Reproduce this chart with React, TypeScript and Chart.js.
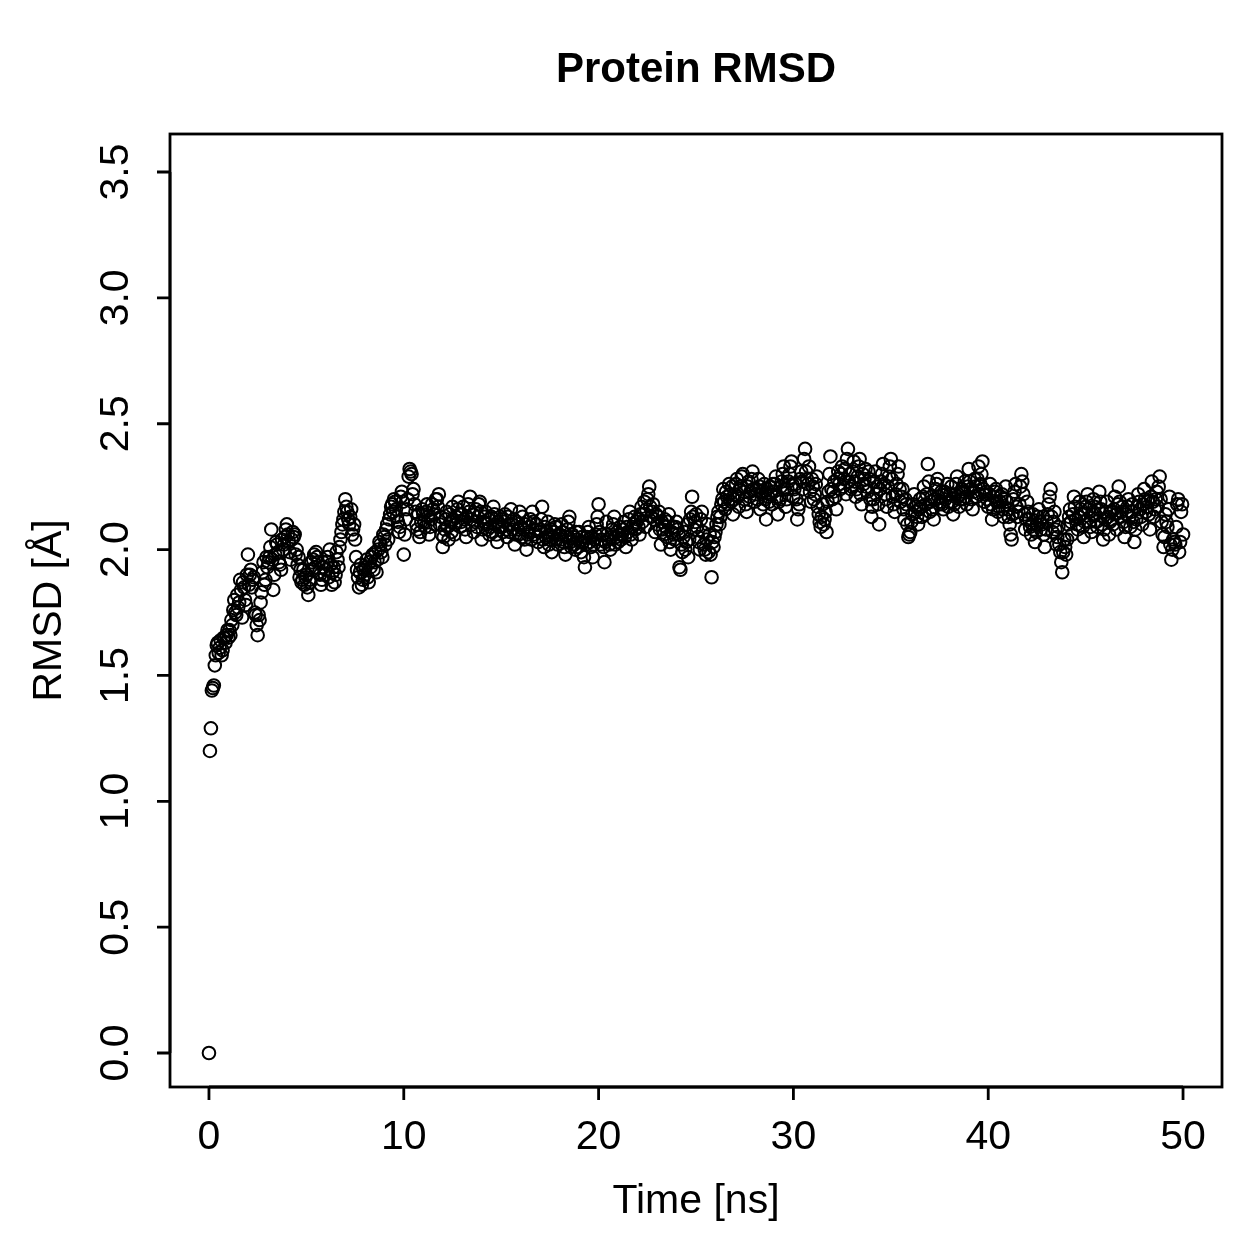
import { useEffect, useRef } from "react";
import { Chart, registerables } from "chart.js";

Chart.register(...registerables);

// Frame spacing of the trajectory (ns); frames alternate between the two lists below
const TIME_STEP_NS = 0.05;

// RMSD values (Å) of frames at t = 0.0, 0.1, 0.2, ... ns
const RMSD_EVEN_00_10 = [
  0.0, 1.29, 1.45, 1.54, 1.62, 1.59, 1.64, 1.6, 1.65, 1.66,
  1.65, 1.66, 1.7, 1.8, 1.74, 1.77, 1.88, 1.73, 1.85, 1.78,
  1.98, 1.9, 1.85, 1.89, 1.74, 1.66, 1.72, 1.83, 1.95, 1.88,
  1.93, 1.97, 2.08, 1.84, 1.98, 2.02, 1.95, 1.92, 2.0, 2.05,
  2.1, 2.03, 1.96, 2.07, 2.06, 2.0, 1.97, 1.92, 1.88, 1.86,
  1.9, 1.82, 1.87, 1.92, 1.98, 1.99, 1.95, 1.9, 1.88, 1.93,
  1.92, 1.97, 2.0, 1.86, 1.93, 1.9, 1.96, 2.01, 2.07, 2.12,
  2.2, 2.15, 2.1, 2.16, 2.08, 2.04, 1.92, 1.85, 1.94, 1.88,
  1.9, 1.96, 1.87, 1.93, 1.98, 1.95, 1.91, 2.0, 2.02, 1.97,
  2.05, 2.08, 2.04, 2.14, 2.18, 2.2, 2.16, 2.11, 2.09, 2.23,
];
const RMSD_EVEN_10_20 = [
  1.98, 2.12, 2.2, 2.32, 2.3, 2.24, 2.15, 2.08, 2.05, 2.11,
  2.14, 2.09, 2.18, 2.06, 2.12, 2.16, 2.1, 2.2, 2.22, 2.13,
  2.01, 2.08, 2.15, 2.04, 2.11, 2.17, 2.06, 2.13, 2.19, 2.09,
  2.14, 2.12, 2.05, 2.18, 2.21, 2.1, 2.07, 2.16, 2.13, 2.19,
  2.04, 2.11, 2.15, 2.08, 2.06, 2.13, 2.17, 2.1, 2.03, 2.09,
  2.12, 2.07, 2.14, 2.05, 2.1, 2.16, 2.08, 2.02, 2.11, 2.06,
  2.09, 2.13, 2.04, 2.0, 2.07, 2.12, 2.15, 2.06, 2.1, 2.03,
  2.08, 2.17, 2.01, 2.05, 2.11, 2.04, 1.99, 2.07, 2.09, 2.02,
  2.06, 2.1, 2.03, 1.98, 2.08, 2.13, 2.01, 2.05, 2.0, 2.04,
  2.07, 1.99, 2.03, 1.93, 2.05, 2.09, 2.01, 1.97, 2.04, 2.1,
];
const RMSD_EVEN_20_30 = [
  2.18, 2.02, 2.06, 1.95, 2.11, 2.04, 2.0, 2.08, 2.13, 2.05,
  2.03, 2.09, 2.06, 2.11, 2.01, 2.07, 2.15, 2.04, 2.1, 2.08,
  2.12, 2.06, 2.17, 2.14, 2.09, 2.2, 2.25, 2.13, 2.18, 2.07,
  2.1, 2.15, 2.02, 2.08, 2.12, 2.05, 2.14, 2.0, 2.09, 2.04,
  2.11, 2.06, 1.92, 1.99, 2.07, 2.03, 1.97, 2.12, 2.21, 2.08,
  2.14, 2.05, 2.0, 2.15, 2.02, 1.98, 2.1, 2.06, 1.89, 2.01,
  2.07, 2.13, 2.1, 2.18, 2.24, 2.16, 2.21, 2.26, 2.19, 2.14,
  2.22, 2.28, 2.17, 2.25, 2.3, 2.2, 2.15, 2.27, 2.23, 2.31,
  2.19, 2.24, 2.28, 2.16, 2.22, 2.26, 2.12, 2.21, 2.25, 2.18,
  2.23, 2.29, 2.14, 2.2, 2.27, 2.33, 2.17, 2.24, 2.3, 2.35,
];
const RMSD_EVEN_30_40 = [
  2.21, 2.26, 2.12, 2.18, 2.31, 2.24, 2.4, 2.28, 2.33, 2.19,
  2.25, 2.22, 2.29, 2.14, 2.09, 2.18, 2.12, 2.07, 2.23, 2.37,
  2.2, 2.27, 2.16, 2.31, 2.24, 2.33, 2.28, 2.22, 2.4, 2.3,
  2.25, 2.35, 2.21, 2.29, 2.36, 2.18, 2.26, 2.32, 2.23, 2.28,
  2.13, 2.2, 2.31, 2.25, 2.1, 2.27, 2.34, 2.22, 2.17, 2.29,
  2.36, 2.21, 2.15, 2.26, 2.33, 2.19, 2.24, 2.12, 2.18, 2.05,
  2.07, 2.14, 2.22, 2.17, 2.1, 2.2, 2.13, 2.25, 2.18, 2.34,
  2.15, 2.21, 2.12, 2.24, 2.28, 2.18, 2.23, 2.16, 2.2, 2.26,
  2.19, 2.25, 2.14, 2.22, 2.29, 2.17, 2.23, 2.2, 2.27, 2.18,
  2.32, 2.24, 2.16, 2.28, 2.21, 2.33, 2.26, 2.35, 2.19, 2.23,
];
const RMSD_EVEN_40_50 = [
  2.17, 2.26, 2.12, 2.21, 2.24, 2.15, 2.19, 2.22, 2.13, 2.25,
  2.16, 2.1, 2.04, 2.2, 2.26, 2.13, 2.18, 2.3, 2.22, 2.08,
  2.19, 2.12, 2.06, 2.14, 2.03, 2.1, 2.16, 2.08, 2.13, 2.01,
  2.11, 2.18, 2.24, 2.07, 2.15, 2.02, 2.09, 1.99, 1.91, 2.04,
  1.98, 2.1, 2.16, 2.06, 2.21, 2.12, 2.08, 2.19, 2.14, 2.05,
  2.17, 2.22, 2.11, 2.07, 2.2, 2.14, 2.09, 2.23, 2.16, 2.04,
  2.12, 2.19, 2.06, 2.15, 2.1, 2.21, 2.08, 2.25, 2.13, 2.17,
  2.05, 2.14, 2.2, 2.09, 2.18, 2.03, 2.12, 2.22, 2.16, 2.1,
  2.24, 2.15, 2.19, 2.08, 2.27, 2.13, 2.2, 2.17, 2.29, 2.11,
  2.01, 2.14, 2.09, 2.21, 1.96, 2.04, 2.02, 2.18, 1.99, 2.15,
  2.06,
];

// RMSD values (Å) of frames at t = 0.05, 0.15, 0.25, ... ns
const RMSD_ODD_00_10 = [
  1.2, 1.44, 1.46, 1.58, 1.63, 1.61, 1.58, 1.65, 1.63, 1.68,
  1.68, 1.72, 1.76, 1.75, 1.82, 1.79, 1.84, 1.87, 1.8, 1.9,
  1.86, 1.92, 1.88, 1.75, 1.7, 1.74, 1.79, 1.91, 1.86, 1.97,
  1.95, 2.01, 1.96, 1.9, 2.03, 1.99, 1.94, 2.04, 2.02, 2.08,
  2.06, 1.99, 2.04, 2.05, 1.98, 1.94, 1.89, 1.87, 1.92, 1.89,
  1.85, 1.88, 1.95, 1.96, 1.93, 1.97, 1.91, 1.86, 1.95, 1.9,
  1.95, 1.89, 1.94, 1.91, 1.87, 1.99, 1.93, 2.04, 2.1, 2.15,
  2.17, 2.12, 2.13, 2.06, 2.1, 1.97, 1.89, 1.91, 1.86, 1.92,
  1.93, 1.89, 1.95, 1.97, 1.92, 1.99, 1.96, 2.03, 1.99, 2.06,
  2.02, 2.1, 2.12, 2.17, 2.15, 2.19, 2.13, 2.07, 2.21, 2.19,
];
const RMSD_ODD_10_20 = [
  2.06, 2.16, 2.29, 2.31, 2.22, 2.18, 2.1, 2.14, 2.07, 2.16,
  2.11, 2.15, 2.13, 2.09, 2.18, 2.14, 2.2, 2.17, 2.1, 2.06,
  2.05, 2.12, 2.09, 2.14, 2.07, 2.12, 2.1, 2.16, 2.14, 2.11,
  2.17, 2.08, 2.13, 2.15, 2.12, 2.14, 2.11, 2.09, 2.18, 2.15,
  2.08, 2.13, 2.1, 2.12, 2.09, 2.07, 2.14, 2.06, 2.11, 2.13,
  2.09, 2.11, 2.08, 2.13, 2.07, 2.1, 2.12, 2.06, 2.08, 2.15,
  2.05, 2.08, 2.1, 2.06, 2.09, 2.04, 2.11, 2.08, 2.05, 2.07,
  2.12, 2.04, 2.09, 2.07, 2.02, 2.08, 2.05, 2.1, 2.04, 2.06,
  2.04, 2.07, 2.01, 2.05, 2.11, 2.03, 2.06, 2.02, 2.07, 2.01,
  2.03, 2.05, 1.97, 2.02, 2.07, 2.03, 2.05, 2.02, 2.06, 2.13,
];
const RMSD_ODD_20_30 = [
  2.07, 2.04, 2.01, 2.03, 2.06, 2.02, 2.05, 2.1, 2.02, 2.07,
  2.06, 2.04, 2.08, 2.05, 2.09, 2.12, 2.06, 2.09, 2.13, 2.11,
  2.09, 2.14, 2.11, 2.19, 2.16, 2.22, 2.17, 2.15, 2.12, 2.14,
  2.13, 2.08, 2.11, 2.06, 2.09, 2.11, 2.03, 2.07, 2.06, 2.09,
  2.08, 1.93, 2.02, 2.05, 2.0, 2.1, 2.04, 2.15, 2.13, 2.11,
  2.09, 2.03, 2.12, 2.07, 2.0, 2.04, 1.99, 1.98, 2.03, 2.05,
  2.1, 2.15, 2.13, 2.2, 2.19, 2.23, 2.18, 2.22, 2.25, 2.2,
  2.26, 2.21, 2.24, 2.29, 2.23, 2.18, 2.25, 2.21, 2.28, 2.24,
  2.22, 2.2, 2.25, 2.23, 2.18, 2.2, 2.24, 2.19, 2.22, 2.26,
  2.26, 2.21, 2.19, 2.25, 2.3, 2.24, 2.2, 2.27, 2.33, 2.26,
];
const RMSD_ODD_30_40 = [
  2.24, 2.2, 2.16, 2.28, 2.27, 2.36, 2.31, 2.26, 2.23, 2.28,
  2.2, 2.26, 2.17, 2.11, 2.13, 2.1, 2.15, 2.19, 2.3, 2.24,
  2.23, 2.21, 2.28, 2.26, 2.3, 2.25, 2.32, 2.36, 2.27, 2.24,
  2.31, 2.27, 2.24, 2.33, 2.22, 2.3, 2.28, 2.25, 2.31, 2.2,
  2.17, 2.27, 2.22, 2.18, 2.24, 2.3, 2.26, 2.2, 2.25, 2.33,
  2.28, 2.18, 2.22, 2.3, 2.24, 2.21, 2.16, 2.2, 2.1, 2.06,
  2.11, 2.18, 2.15, 2.13, 2.16, 2.17, 2.21, 2.14, 2.22, 2.27,
  2.19, 2.16, 2.2, 2.26, 2.21, 2.19, 2.18, 2.23, 2.22, 2.17,
  2.22, 2.19, 2.18, 2.26, 2.21, 2.2, 2.24, 2.23, 2.21, 2.25,
  2.27, 2.2, 2.23, 2.25, 2.28, 2.22, 2.3, 2.24, 2.22, 2.2,
];
const RMSD_ODD_40_50 = [
  2.22, 2.18, 2.16, 2.23, 2.19, 2.17, 2.21, 2.16, 2.2, 2.19,
  2.13, 2.06, 2.14, 2.23, 2.17, 2.15, 2.25, 2.27, 2.14, 2.12,
  2.15, 2.09, 2.1, 2.08, 2.07, 2.13, 2.11, 2.1, 2.06, 2.08,
  2.14, 2.21, 2.13, 2.11, 2.08, 2.05, 2.02, 1.95, 1.99, 2.01,
  2.04, 2.13, 2.11, 2.14, 2.17, 2.1, 2.13, 2.16, 2.09, 2.11,
  2.19, 2.16, 2.09, 2.14, 2.17, 2.11, 2.16, 2.19, 2.1, 2.08,
  2.15, 2.13, 2.11, 2.12, 2.16, 2.14, 2.18, 2.19, 2.15, 2.11,
  2.09, 2.17, 2.13, 2.15, 2.11, 2.08, 2.17, 2.19, 2.13, 2.18,
  2.2, 2.17, 2.14, 2.21, 2.19, 2.16, 2.23, 2.25, 2.2, 2.06,
  2.05, 2.11, 2.16, 2.02, 2.0, 2.03, 2.09, 2.2, 2.03, 2.18,
];

const X_TICKS = [0, 10, 20, 30, 40, 50];
const X_TICK_LABELS = ["0", "10", "20", "30", "40", "50"];
const Y_TICKS = [0, 0.5, 1.0, 1.5, 2.0, 2.5, 3.0, 3.5];
const Y_TICK_LABELS = ["0.0", "0.5", "1.0", "1.5", "2.0", "2.5", "3.0", "3.5"];

const TITLE = "Protein RMSD";
const X_TITLE = "Time [ns]";
const Y_TITLE = "RMSD [Å]";

const FONT = "'Liberation Sans', Arial, Helvetica, sans-serif";

export default function App() {
  const canvasRef = useRef<HTMLCanvasElement | null>(null);

  useEffect(() => {
    const canvas = canvasRef.current;
    if (!canvas) return;
    const even = [
      ...RMSD_EVEN_00_10, ...RMSD_EVEN_10_20, ...RMSD_EVEN_20_30, ...RMSD_EVEN_30_40, ...RMSD_EVEN_40_50,
    ];
    const odd = [
      ...RMSD_ODD_00_10, ...RMSD_ODD_10_20, ...RMSD_ODD_20_30, ...RMSD_ODD_30_40, ...RMSD_ODD_40_50,
    ];
    const rmsd: number[] = [];
    for (let i = 0; i < even.length; i++) {
      rmsd.push(even[i]);
      if (i < odd.length) rmsd.push(odd[i]);
    }
    const points = rmsd.map((v, j) => ({ x: Math.round(j * TIME_STEP_NS * 1000) / 1000, y: v }));

    const rAxes = {
      id: "rAxes",
      afterDraw(chart: any) {
        const ctx = chart.ctx as CanvasRenderingContext2D;
        const area = chart.chartArea;
        const xs = chart.scales.x;
        const ys = chart.scales.y;
        ctx.save();
        ctx.strokeStyle = "#000";
        ctx.fillStyle = "#000";
        ctx.lineWidth = 2.8;
        ctx.lineCap = "butt";
        ctx.strokeRect(area.left, area.top, area.right - area.left, area.bottom - area.top);
        ctx.beginPath();
        const x0 = xs.getPixelForValue(X_TICKS[0]);
        const x1 = xs.getPixelForValue(X_TICKS[X_TICKS.length - 1]);
        ctx.moveTo(x0, area.bottom);
        ctx.lineTo(x1, area.bottom);
        X_TICKS.forEach((t) => {
          const px = xs.getPixelForValue(t);
          ctx.moveTo(px, area.bottom);
          ctx.lineTo(px, area.bottom + 13);
        });
        const y0 = ys.getPixelForValue(Y_TICKS[0]);
        const y1 = ys.getPixelForValue(Y_TICKS[Y_TICKS.length - 1]);
        ctx.moveTo(area.left, y0);
        ctx.lineTo(area.left, y1);
        Y_TICKS.forEach((t) => {
          const py = ys.getPixelForValue(t);
          ctx.moveTo(area.left, py);
          ctx.lineTo(area.left - 13, py);
        });
        ctx.stroke();

        ctx.font = `41px ${FONT}`;
        ctx.textAlign = "center";
        ctx.textBaseline = "middle";
        X_TICKS.forEach((t, i) => {
          ctx.fillText(X_TICK_LABELS[i], xs.getPixelForValue(t), area.bottom + 51);
        });
        Y_TICKS.forEach((t, i) => {
          ctx.save();
          ctx.translate(area.left - 53, ys.getPixelForValue(t));
          ctx.rotate(-Math.PI / 2);
          ctx.fillText(Y_TICK_LABELS[i], 0, 0);
          ctx.restore();
        });
        const cx = (area.left + area.right) / 2;
        const cy = (area.top + area.bottom) / 2;
        ctx.fillText(X_TITLE, cx, area.bottom + 115);
        ctx.save();
        ctx.translate(area.left - 120, cy);
        ctx.rotate(-Math.PI / 2);
        ctx.fillText(Y_TITLE, 0, 0);
        ctx.restore();
        ctx.font = `bold 42px ${FONT}`;
        ctx.fillText(TITLE, cx, 70);
        ctx.restore();
      },
    };

    const chart = new Chart(canvas, {
      type: "scatter",
      data: {
        datasets: [
          {
            label: "RMSD",
            data: points,
            pointStyle: "circle",
            pointRadius: 6.3,
            pointHoverRadius: 6.3,
            borderWidth: 2,
            borderColor: "#000",
            backgroundColor: "rgba(0,0,0,0)",
          },
        ],
      },
      options: {
        responsive: false,
        animation: false,
        devicePixelRatio: 1,
        layout: { padding: { left: 170, right: 37, top: 134, bottom: 172 } },
        scales: {
          x: { type: "linear", min: -2, max: 52, display: false },
          y: { type: "linear", min: -0.135, max: 3.651, display: false },
        },
        plugins: {
          legend: { display: false },
          tooltip: { enabled: false },
        },
        events: [],
      },
      plugins: [rAxes],
    });
    return () => chart.destroy();
  }, []);

  return (
    <div style={{ position: "absolute", left: 0, top: 0, width: 1259, height: 1259, background: "#fff" }}>
      <canvas ref={canvasRef} width={1259} height={1259} style={{ width: 1259, height: 1259 }} />
    </div>
  );
}
